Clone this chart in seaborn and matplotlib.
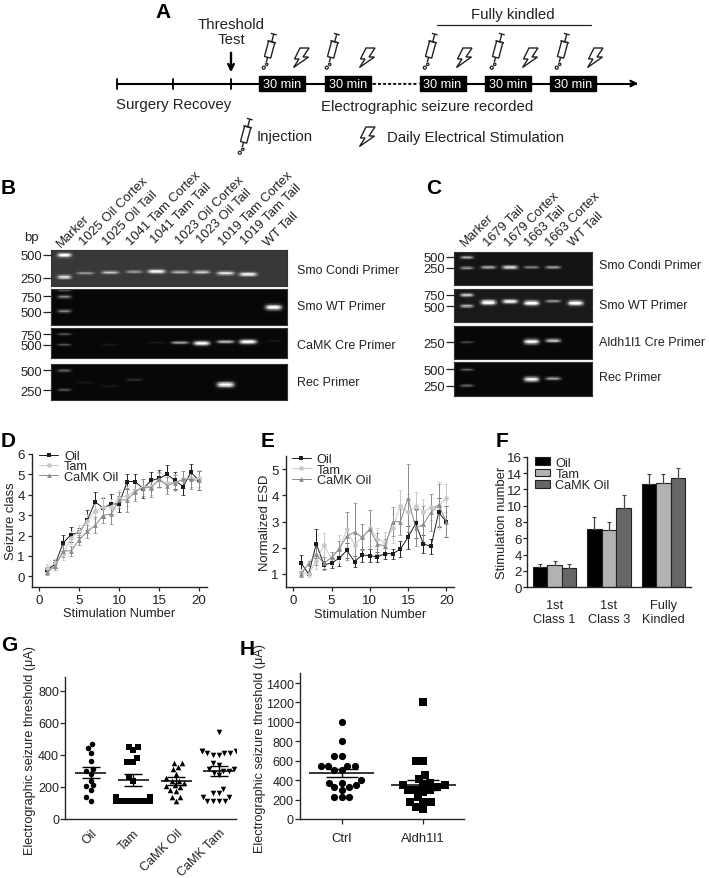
"""Kindling figure: timeline, gels, seizure curves, thresholds."""
import math
import numpy as np
import pandas as pd
import matplotlib
matplotlib.use("Agg")
import matplotlib.pyplot as plt
import seaborn as sns
from matplotlib.patches import Polygon, Rectangle, Circle

W, H = 709, 879

sns.set_style("ticks")
plt.rcParams['font.family'] = ['Liberation Sans', 'DejaVu Sans']
plt.rcParams['axes.linewidth'] = 1.0
plt.rcParams['text.color'] = '#222222'
plt.rcParams['axes.labelcolor'] = '#222222'
plt.rcParams['xtick.labelcolor'] = '#222222'
plt.rcParams['ytick.labelcolor'] = '#222222'

# --- data ---
groups = ["Oil", "Tam", "CaMK Oil"]
group_colors = ["#1c1c1c", "#c8c8c8", "#8a8a8a"]
group_markers = ["s", "o", "^"]
stim = list(range(1, 21))

d_oil = [.3, .6, 1.65, 2.05, 2.15, 2.75, 3.65, 3.35, 3.55, 3.55, 4.65, 4.65, 4.3, 4.7, 4.8, 5.0, 4.7, 4.4, 5.1, 4.7]
d_oil_err = [.15, .2, .4, .35, .2, .5, .5, .5, .5, .4, .35, .35, .45, .4, .4, .45, .4, .4, .4, .45]
d_tam = [.4, .65, 1.1, 1.9, 2.2, 2.7, 3.2, 3.4, 3.4, 3.85, 3.95, 4.2, 4.4, 4.4, 4.7, 4.6, 4.6, 4.75, 4.8, 4.8]
d_tam_err = [.2, .2, .3, .3, .3, .35, .4, .5, .4, .4, .5, .4, .35, .4, .35, .4, .4, .4, .4, .4]
d_cam = [.2, .5, 1.25, 1.25, 1.8, 2.2, 2.5, 3.0, 3.05, 3.75, 3.75, 4.15, 4.35, 4.35, 4.75, 4.45, 4.6, 4.75, 4.75, 4.7]
d_cam_err = [.15, .2, .3, .25, .25, .3, .4, .4, .5, .4, .6, .45, .4, .45, .35, .4, .35, .4, .45, .45]

e_oil = [1.42, 1.0, 2.15, 1.35, 1.42, 1.6, 1.9, 1.47, 1.72, 1.7, 1.65, 1.78, 1.77, 1.95, 2.4, 2.93, 2.15, 2.05, 3.35, 3.0]
e_oil_err = [.3, .05, .55, .15, .2, .3, .3, .2, .25, .25, .2, .2, .2, .3, .45, .55, .35, .3, .55, .6]
e_tam = [1.05, 1.0, 1.5, 2.1, 1.6, 1.95, 2.7, 2.1, 2.4, 2.75, 2.35, 2.2, 2.75, 3.6, 3.35, 3.6, 3.35, 3.55, 3.6, 3.9]
e_tam_err = [.15, .1, .3, .45, .25, .55, .65, .5, .5, .7, .4, .4, .55, .6, .7, .55, .5, .5, .9, .55]
e_cam = [1.0, 1.4, 1.75, 1.4, 1.65, 1.95, 2.45, 2.6, 2.4, 2.7, 2.15, 2.05, 3.0, 3.0, 3.9, 2.75, 2.9, 3.35, 3.65, 3.0]
e_cam_err = [.1, .1, .4, .25, .2, .3, .9, 1.1, .5, .75, .4, .3, .55, .5, 1.3, .7, .7, .7, .8, .6]

f_cats = ["1st\nClass 1", "1st\nClass 3", "Fully\nKindled"]
f_oil = [2.45, 7.15, 12.65]
f_tam = [2.7, 7.05, 12.75]
f_cam = [2.4, 9.7, 13.4]
f_oil_err = [.4, 1.5, 1.2]
f_tam_err = [.55, 1.0, 1.15]
f_cam_err = [.4, 1.6, 1.2]

g_cats = ["Oil", "Tam", "CaMK Oil", "CaMK Tam"]
g_markers = ["o", "s", "^", "v"]
g_oil = [470, 445, 415, 365, 310, 300, 280, 240, 210, 205, 180, 135, 110]
g_tam = [450, 450, 430, 380, 355, 355, 260, 240, 135, 135, 135, 135, 110, 110, 110, 110, 110, 110, 110]
g_cam_oil = [350, 350, 325, 310, 280, 255, 240, 235, 225, 210, 205, 200, 180, 175, 135, 135, 110]
g_cam_tam = [545, 425, 425, 425, 410, 410, 410, 400, 400, 350, 340, 310, 310, 300, 300, 290, 275,
             190, 165, 165, 135, 135, 110, 110, 110, 110]
g_mean = [290, 244, 237, 300]
g_sem = [37, 40, 25, 34]

h_cats = ["Ctrl", "Aldh1l1"]
h_markers = ["o", "s"]
h_ctrl = [1000, 800, 650, 650, 550, 550, 550, 550, 500, 500, 400, 375, 375, 350, 330, 325, 300, 225, 225, 225]
h_aldh = [1200, 600, 600, 450, 410, 375, 350, 350, 350, 325, 300, 300, 300, 275, 225, 175, 175, 175, 125, 100]
h_mean = [473, 350]
h_sem = [43, 56]

# gel bands: (lane, height in gel 0-1, brightness)
b_lanes = [.056, .146, .25, .352, .448, .546, .639, .741, .835, .944]
b_labels = ["Marker", "1025 Oil Cortex", "1025 Oil Tail", "1041 Tam Cortex", "1041 Tam Tail",
            "1023 Oil Cortex", "1023 Oil Tail", "1019 Tam Cortex", "1019 Tam Tail", "WT Tail"]
b_gel1 = [(0, .13, .8), (0, .76, .7), (1, .65, .4), (2, .63, .55), (3, .61, .4), (4, .6, .75),
          (5, .62, .5), (6, .62, .6), (7, .65, .7), (8, .68, .75)]
b_gel2 = [(0, .03, .3), (0, .21, .5), (0, .62, .5), (9, .51, 1.0)]
b_gel3 = [(0, .19, .3), (0, .55, .3), (2, .55, .07), (4, .48, .07), (5, .48, .6), (6, .5, 1.0),
          (7, .45, .7), (8, .45, 1.0), (9, .42, .07)]
b_gel4 = [(0, .18, .35), (0, .73, .3), (1, .52, .06), (2, .63, .06), (3, .44, .15), (7, .58, 1.0)]

c_lanes = [.092, .248, .405, .561, .718, .88]
c_labels = ["Marker", "1679 Tail", "1679 Cortex", "1663 Tail", "1663 Cortex", "WT Tail"]
c_gel1 = [(0, .15, .6), (0, .48, .5), (1, .46, .55), (2, .46, .75), (3, .46, .4), (4, .46, .5)]
c_gel2 = [(0, .18, .65), (0, .52, .6), (1, .41, 1.0), (2, .38, .85), (3, .43, 1.0), (4, .37, .45), (5, .43, 1.0)]
c_gel3 = [(0, .5, .25), (3, .48, 1.0), (4, .45, .75)]
c_gel4 = [(0, .21, .35), (0, .69, .35), (3, .5, .95), (4, .48, .6)]

fig = plt.figure(figsize=(W / 100, H / 100), dpi=100)
over = fig.add_axes([0, 0, 1, 1], zorder=10)
over.set_xlim(0, W)
over.set_ylim(H, 0)
over.axis("off")
over.patch.set_alpha(0)


def px_axes(x0, y0, x1, y1):
    """Axes from pixel box, y counted from the top."""
    return fig.add_axes([x0 / W, 1 - y1 / H, (x1 - x0) / W, (y1 - y0) / H])


def label(x, y, s, size=10.8, **kw):
    kw.setdefault("va", "center")
    over.text(x, y, s, fontsize=size, **kw)


def syringe(cx, cy, scale=1.0):
    a = math.radians(15)
    L = 37 * scale

    def pt(u, v):
        u, v = u * scale - L / 2, v * scale
        return cx - u * math.sin(a) + v * math.cos(a), cy + u * math.cos(a) + v * math.sin(a)

    c = "#222222"
    for p, q in [((0, -3), (0, 3)), ((0, 0), (8, 0)), ((8, -4.5), (8, 4.5)), ((24, 0), (29, 0))]:
        x, y = zip(pt(*p), pt(*q))
        over.plot(x, y, color=c, lw=1.0, solid_capstyle="butt")
    over.add_patch(Polygon([pt(8, -3.2), pt(8, 3.2), pt(24, 3.2), pt(24, -3.2)], fill=False, ec=c, lw=1.0))
    over.add_patch(Circle(pt(31, 1), 1.2 * scale, fill=False, ec=c, lw=.9))
    over.add_patch(Circle(pt(35, -1), 1.5 * scale, fill=False, ec=c, lw=.9))


def bolt(cx, cy):
    shape = [(-1, -10), (8, -10), (2, -1), (7.5, -1), (-7.5, 9.5), (-2, 1), (-6.5, 1)]
    over.add_patch(Polygon([(cx + x, cy + y) for x, y in shape], fill=False, ec="#222222", lw=1.0))


# --- panel A ---
tl_y = 84.5
over.plot([116.5, 636], [tl_y, tl_y], color="k", lw=1.5, zorder=1)
over.annotate("", xy=(641, tl_y), xytext=(628, tl_y), arrowprops=dict(arrowstyle="->", lw=1.5, color="k"))
for x in [116.5, 172.9, 231]:
    over.plot([x, x], [tl_y - 5, tl_y + 5], color="k", lw=1.3)
over.plot([373, 418], [tl_y, tl_y], color="white", lw=2, zorder=2)
over.plot([373, 418], [tl_y, tl_y], color="k", lw=1.3, ls=(0, (1.6, 1.2)), zorder=3)
for x0, x1 in [(259, 305), (325, 371), (419.7, 465.5), (485, 531), (550, 596)]:
    over.add_patch(Rectangle((x0, 76.8), x1 - x0, 15.5, color="k", zorder=4))
    over.text((x0 + x1) / 2, 85, "30 min", color="white", fontsize=9.2, ha="center", va="center", zorder=5)
for x in [269, 332, 430, 497, 562]:
    syringe(x, 53)
for x in [301, 367, 464, 530, 595]:
    bolt(x, 59)
syringe(245, 138)
bolt(367, 138)
over.plot([437, 591], [26.4, 26.4], color="#222222", lw=.9)
label(512.7, 15.5, "Fully kindled", ha="center")
label(231, 24.6, "Threshold", ha="center")
label(231, 40.5, "Test", ha="center")
over.annotate("", xy=(231, 76), xytext=(231, 51), arrowprops=dict(arrowstyle="->", lw=1.7, color="k"))
label(116.5, 105, "Surgery Recovey")
label(321, 106.7, "Electrographic seizure recorded")
label(257, 137, "Injection")
label(387, 138, "Daily Electrical Stimulation")

# panel letters
for x, y, s in [(155, 12, "A"), (1, 189, "B"), (426, 189, "C"), (1, 442, "D"), (261, 442, "E"),
                (496, 442, "F"), (1, 646, "G"), (240, 650, "H")]:
    over.text(x, y, s, fontsize=15, fontweight="bold", color="k", va="center")


# --- gels ---
def gel(box, lanes, bands, ticks, background=.03, band_w=.036):
    ax = px_axes(*box)
    n_rows, n_cols = 60, 240
    yy, xx = np.mgrid[0:1:n_rows * 1j, 0:1:n_cols * 1j]
    img = np.full(xx.shape, background, dtype=float)
    for lane, pos, level in bands:
        w = band_w if lane else band_w * .85
        thick = .035 + .04 * level ** 2
        img += level * np.exp(-((xx - lanes[lane]) / w) ** 4 - ((yy - pos) / thick) ** 2)
    sns.heatmap(np.clip(img, 0, 1), ax=ax, cmap="gray", vmin=0, vmax=1, cbar=False,
                xticklabels=False, yticklabels=False)
    for s in ax.spines.values():
        s.set_visible(True)
        s.set_linewidth(.8)
        s.set_color("#333333")
    ax.set_yticks([p * n_rows for p, _ in ticks])
    ax.set_yticklabels([t for _, t in ticks], fontsize=9.4, rotation=0)
    ax.tick_params(axis="y", left=True, length=6, width=.9, pad=0.5, color="#222222")
    ax.tick_params(axis="x", bottom=False)
    return ax


gel((50.7, 251.3, 287.3, 286.7), b_lanes, b_gel1, [(.13, "500"), (.78, "250")], background=.22)
gel((50.7, 290, 287.3, 326), b_lanes, b_gel2, [(.2, "750"), (.63, "500")])
gel((50.7, 329.3, 287.3, 359.3), b_lanes, b_gel3, [(.19, "750"), (.55, "500")])
gel((50.7, 365, 287.3, 400.7), b_lanes, b_gel4, [(.18, "500"), (.73, "250")])
gel((454, 253.3, 592.3, 286), c_lanes, c_gel1, [(.14, "500"), (.48, "250")], background=.08, band_w=.055)
gel((454, 290, 592.3, 322.7), c_lanes, c_gel2, [(.18, "750"), (.52, "500")], background=.1, band_w=.055)
gel((454, 326.7, 592.3, 360), c_lanes, c_gel3, [(.5, "250")], band_w=.055)
gel((454, 363.3, 592.3, 397.3), c_lanes, c_gel4, [(.21, "500"), (.69, "250")], band_w=.055)

label(31.7, 238, "bp", size=9.4, ha="center")
b_starts = [(59, 246), (82, 244), (105, 244), (129, 244), (153, 242), (178, 243), (199, 242), (221, 244), (243, 243), (266, 245)]
for (x, y), s in zip(b_starts, b_labels):
    over.text(x, y, s, fontsize=9.4, rotation=45, rotation_mode="anchor", ha="left", va="center")
c_starts = [(463, 245), (486, 245), (507, 245), (527, 245), (548, 245), (571, 245)]
for (x, y), s in zip(c_starts, c_labels):
    over.text(x, y, s, fontsize=9.4, rotation=45, rotation_mode="anchor", ha="left", va="center")
for y, s in [(271, "Smo Condi Primer"), (307, "Smo WT Primer"), (345.7, "CaMK Cre Primer"), (383, "Rec Primer")]:
    label(297, y, s, size=9.0)
for y, s in [(265.7, "Smo Condi Primer"), (306, "Smo WT Primer"), (343, "Aldh1l1 Cre Primer"), (378, "Rec Primer")]:
    label(599, y, s, size=9.0)


# --- panels D, E ---
def curve_panel(box, xlim, ylim, yticks, series, errs, ylabel, legend_anchor):
    ax = px_axes(*box)
    df = pd.concat([pd.DataFrame({"stim": stim, "value": v, "group": g}) for g, v in zip(groups, series)])
    for v, e, c in zip(series, errs, group_colors):
        ax.errorbar(stim, v, yerr=e, fmt="none", ecolor=c, elinewidth=.7, capsize=1.2, capthick=.5)
    sns.lineplot(data=df, x="stim", y="value", hue="group", style="group", ax=ax, palette=group_colors,
                 markers=dict(zip(groups, group_markers)), dashes=False, errorbar=None,
                 markersize=3.4, markeredgewidth=0, linewidth=.7)
    ax.set_xlim(*xlim)
    ax.set_ylim(*ylim)
    ax.set_xticks([0, 5, 10, 15, 20])
    ax.set_yticks(yticks)
    ax.set_xlabel("Stimulation Number", fontsize=9.2, labelpad=1)
    ax.set_ylabel(ylabel, fontsize=9.4, labelpad=0.5)
    ax.tick_params(labelsize=9.6, length=3, width=.9, pad=2)
    sns.despine(ax=ax)
    ax.legend(frameon=False, fontsize=9.2, loc="upper left", bbox_to_anchor=legend_anchor, borderpad=0,
              borderaxespad=0, labelspacing=-.12, handlelength=1.5, handletextpad=.45, title=None)
    return ax


curve_panel((31.7, 455, 206.7, 587.7), (-.95, 20.96), (-.51, 6), range(0, 7), [d_oil, d_tam, d_cam],
            [d_oil_err, d_tam_err, d_cam_err], "Seizure class", (.043, 1.03))
curve_panel((285.7, 456.7, 454.3, 588.3), (-1, 21.05), (.49, 5.52), range(1, 6), [e_oil, e_tam, e_cam],
            [e_oil_err, e_tam_err, e_cam_err], "Normalized ESD", (.036, 1.02))

# --- panel F ---
ax = px_axes(527.3, 457.7, 690.7, 588.3)
f_df = pd.DataFrame({"cat": f_cats * 3, "value": f_oil + f_tam + f_cam,
                     "group": [g for g in groups for _ in f_cats]})
sns.barplot(data=f_df, x="cat", y="value", hue="group", ax=ax, palette=["#000000", "#b2b2b2", "#666666"],
            errorbar=None, width=.8, saturation=1, edgecolor="#222222", linewidth=.8)
f_errs = f_oil_err + f_tam_err + f_cam_err
for patch, err in zip(ax.patches, f_errs):
    ax.errorbar(patch.get_x() + patch.get_width() / 2, patch.get_height(), yerr=[[0], [err]],
                fmt="none", ecolor="#444444", elinewidth=.9, capsize=1.5, capthick=.8)
ax.set_xlim(-.5, 2.5)
ax.set_ylim(0, 16)
ax.set_yticks(range(0, 17, 2))
ax.set_xlabel("")
ax.set_ylabel("Stimulation number", fontsize=9.4)
ax.yaxis.set_label_coords(-.118, .5)
ax.tick_params(axis="y", labelsize=9.6, length=3, width=.9, pad=1)
ax.tick_params(axis="x", labelsize=9.2, bottom=False, pad=5)
sns.despine(ax=ax)
ax.legend(frameon=False, fontsize=9.2, loc="upper left", bbox_to_anchor=(.05, 1.0), borderpad=0, borderaxespad=0,
          labelspacing=-.05, handlelength=1.1, handleheight=.55, handletextpad=.45, title=None)


# --- panels G, H ---
def scatter_panel(box, xlim, ylim, yticks, cats, values, markers, size, means, sems, half_mean, half_cap, capsize, ylabel_x):
    ax = px_axes(*box)
    df = pd.DataFrame({"group": [c for c, v in zip(cats, values) for _ in v],
                       "value": [x for v in values for x in v]})
    for c, m in zip(cats, markers):
        sns.swarmplot(data=df[df.group == c], x="group", y="value", order=cats, ax=ax, color="k", marker=m,
                      size=size, linewidth=0, warn_thresh=1)
    for i, (mean, sem) in enumerate(zip(means, sems)):
        ax.hlines(mean, i - half_mean, i + half_mean, color="k", lw=1.1, zorder=5)
        ax.errorbar(i, mean, yerr=sem, fmt="none", ecolor="k", elinewidth=1.0, capsize=capsize, capthick=1.0, zorder=5)
    ax.set_xlim(*xlim)
    ax.set_ylim(*ylim)
    ax.set_yticks(yticks)
    ax.set_xlabel("")
    ax.set_ylabel("Electrographic seizure threshold (\u03bcA)", fontsize=9.1)
    ax.yaxis.set_label_coords(ylabel_x, .49)
    ax.tick_params(axis="y", labelsize=9.0, length=3.5, width=.9, pad=1)
    sns.despine(ax=ax)
    return ax


ax = scatter_panel((65.3, 678.3, 236, 820), (-.59, 3.4), (0, 885), range(0, 801, 200), g_cats,
                   [g_oil, g_tam, g_cam_oil, g_cam_tam], g_markers, 4.0, g_mean, g_sem, .36, .21, 6.6, -.172)
ax.tick_params(axis="x", bottom=False, labelsize=9.0, pad=2)
plt.setp(ax.get_xticklabels(), rotation=45, ha="right", rotation_mode="anchor")

ax = scatter_panel((300, 674.3, 464, 820), (-.51, 1.5), (0, 1500), range(0, 1401, 200), h_cats,
                   [h_ctrl, h_aldh], h_markers, 5.2, h_mean, h_sem, .4, .2, 11.5, -.205)
ax.tick_params(axis="x", labelsize=9.4, length=3.5, width=.9, pad=6)

fig.savefig("out.png", dpi=100)
